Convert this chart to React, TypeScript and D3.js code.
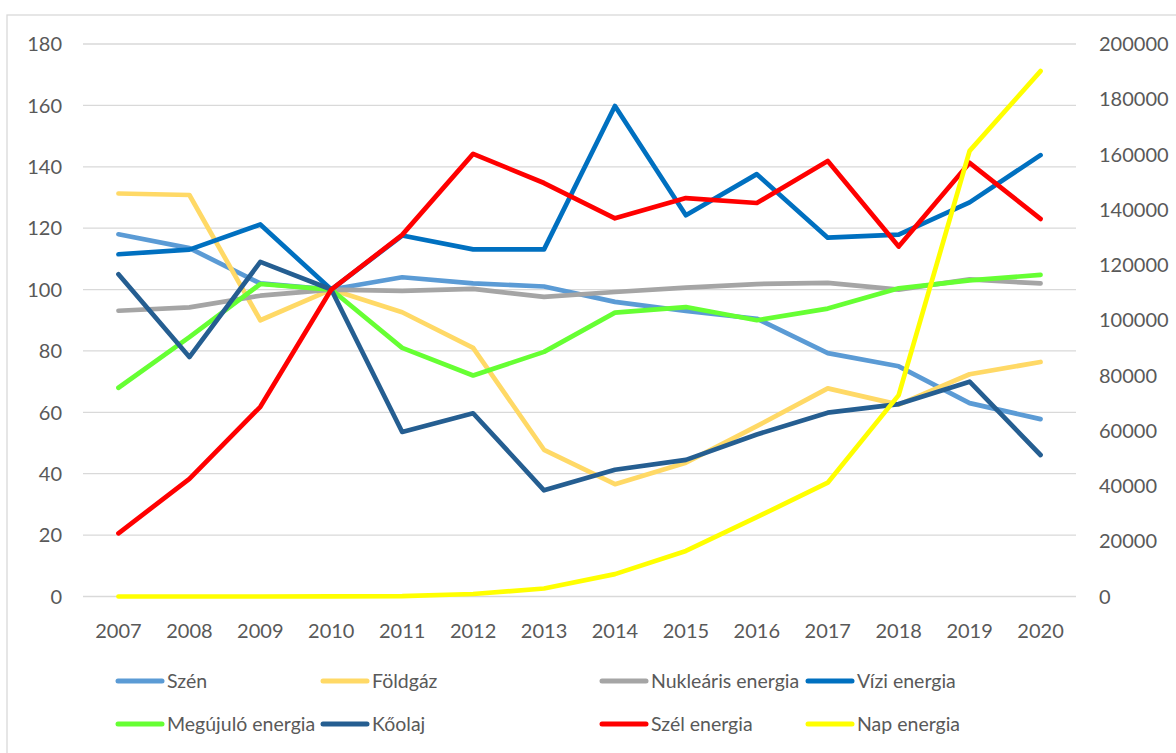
import * as d3 from "d3";
import React from "react";

const years = ["2007", "2008", "2009", "2010", "2011", "2012", "2013", "2014", "2015", "2016", "2017", "2018", "2019", "2020"];

const szen = [118, 113.5, 102, 100, 104, 102, 101, 96, 93, 90.5, 79.3, 75, 63, 57.8];
const foldgaz = [131.3, 130.8, 90, 100, 92.6, 81, 47.8, 36.6, 43.6, 55.5, 67.8, 62.5, 72.4, 76.4];
const nuklearis = [93.1, 94.2, 98, 100, 99.6, 100.2, 97.6, 99.2, 100.6, 101.8, 102.2, 100, 103.3, 102];
const vizi = [111.5, 113, 121.2, 100, 117.6, 113.1, 113.1, 159.8, 124.2, 137.6, 116.9, 117.9, 128.4, 143.8];
const megujulo = [68, 84.5, 101.8, 100, 81, 72, 79.7, 92.5, 94.3, 90, 93.8, 100.4, 103, 104.8];
const koolaj = [105, 78, 109, 100, 53.6, 59.7, 34.6, 41.3, 44.5, 52.8, 59.9, 62.7, 70, 46.1];
const szel = [20.6, 38.3, 61.8, 100, 117.8, 144.2, 134.7, 123.2, 129.8, 128.2, 141.9, 114, 141.3, 123];
const nap = [0, 0, 0, 50, 150, 900, 2900, 8100, 16500, 28700, 41200, 72900, 161300, 190200];

const leftTicks = [0, 20, 40, 60, 80, 100, 120, 140, 160, 180];
const rightTicks = [0, 20000, 40000, 60000, 80000, 100000, 120000, 140000, 160000, 180000, 200000];

const series = [
	{ name: "Szén", values: szen, color: "#5B9BD5", right: false },
	{ name: "Földgáz", values: foldgaz, color: "#FFD966", right: false },
	{ name: "Nukleáris energia", values: nuklearis, color: "#A5A5A5", right: false },
	{ name: "Vízi energia", values: vizi, color: "#0070C0", right: false },
	{ name: "Megújuló energia", values: megujulo, color: "#66FF33", right: false },
	{ name: "Kőolaj", values: koolaj, color: "#255E91", right: false },
	{ name: "Szél energia", values: szel, color: "#FF0000", right: false },
	{ name: "Nap energia", values: nap, color: "#FFFF00", right: true },
];

const W = 1176,
	H = 753;
const plot = { left: 83, right: 1076, top: 44, bottom: 596.5 };
const font = "Lato, 'Open Sans', sans-serif";
const textColor = "#595959";

const App = () => {
	const x = d3.scaleBand().domain(years).range([plot.left, plot.right]);
	const yL = d3.scaleLinear().domain([0, 180]).range([plot.bottom, plot.top]);
	const yR = d3.scaleLinear().domain([0, 200000]).range([plot.bottom, plot.top]);

	const cx = (y: string) => (x(y) ?? 0) + x.bandwidth() / 2;

	const legendCols = [116, 321, 600, 806];
	const legendRows = [681, 724];

	return (
		<div style={{ position: "absolute", left: 0, top: 0 }}>
			<svg width={W} height={H} viewBox={`0 0 ${W} ${H}`} style={{ display: "block", background: "#fff" }}>
				<rect x={7} y={15} width={1300} height={900} fill="#fff" stroke="#D9D9D9" strokeWidth={1.3} />
				<g className="grid">
					{leftTicks.map((t) => (
						<line key={t} x1={plot.left} x2={plot.right} y1={yL(t)} y2={yL(t)} stroke="#D9D9D9" strokeWidth={1.3} />
					))}
				</g>
				<g className="left-axis" fontFamily={font} fontSize={20} fill={textColor}>
					{leftTicks.map((t) => (
						<text key={t} x={62} y={yL(t)} dy="0.36em" textAnchor="end">
							{t}
						</text>
					))}
				</g>
				<g className="right-axis" fontFamily={font} fontSize={20} fill={textColor}>
					{rightTicks.map((t) => (
						<text key={t} x={1099} y={yR(t)} dy="0.36em" textAnchor="start">
							{t}
						</text>
					))}
				</g>
				<g className="x-axis" fontFamily={font} fontSize={20} fill={textColor}>
					{years.map((yr) => (
						<text key={yr} x={cx(yr)} y={631} dy="0.36em" textAnchor="middle">
							{yr}
						</text>
					))}
				</g>
				<g className="lines">
					{series.map((s) => {
						const yScale = s.right ? yR : yL;
						const line = d3
							.line<number>()
							.x((_, i) => cx(years[i]))
							.y((v) => yScale(v));
						return (
							<path
								key={s.name}
								d={line(s.values) ?? ""}
								fill="none"
								stroke={s.color}
								strokeWidth={4.7}
								strokeLinejoin="round"
								strokeLinecap="round"
							/>
						);
					})}
				</g>
				<g className="legend" fontFamily={font} fontSize={19.5} fill={textColor}>
					{series.map((s, i) => {
						const lx = legendCols[i % 4];
						const ly = legendRows[Math.floor(i / 4)];
						return (
							<g key={s.name}>
								<line x1={lx + 2} x2={lx + 46} y1={ly} y2={ly} stroke={s.color} strokeWidth={5} strokeLinecap="round" />
								<text x={lx + 51} y={ly} dy="0.36em">
									{s.name}
								</text>
							</g>
						);
					})}
				</g>
			</svg>
		</div>
	);
};

export default App;
